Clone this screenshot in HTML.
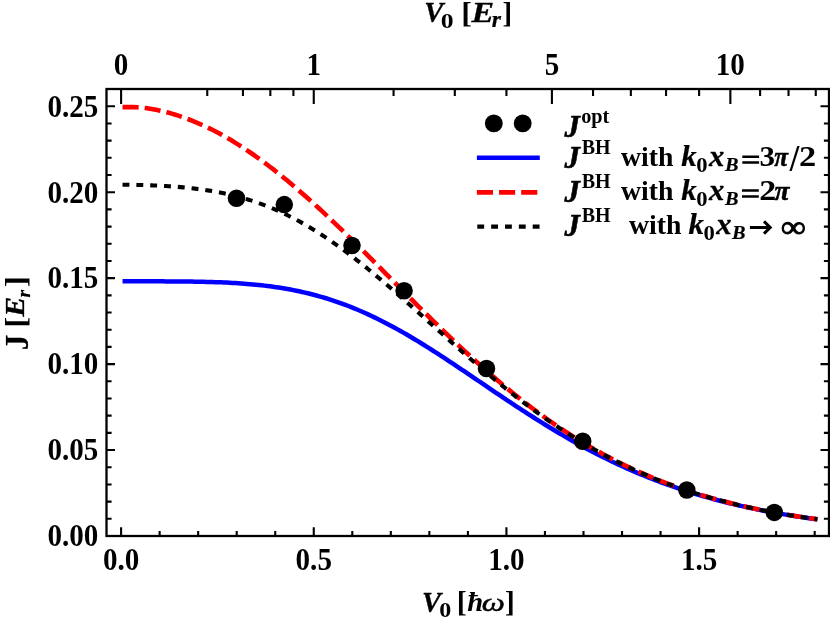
<!DOCTYPE html>
<html><head><meta charset="utf-8"><title>J vs V0</title>
<style>html,body{margin:0;padding:0;background:#fff;}body{width:830px;height:623px;overflow:hidden;}svg{display:block;will-change:transform;}text{font-family:"Liberation Serif",serif;font-weight:bold;fill:#000;}.i{font-style:italic;}</style>
</head><body>
<svg width="830" height="623" viewBox="0 0 830 623">
<rect width="830" height="623" fill="#fff"/>
<g fill="none" stroke-linejoin="round">
<path d="M122.53,281.33 L125.42,281.33 L128.32,281.33 L131.21,281.33 L134.11,281.33 L137.00,281.33 L139.90,281.33 L142.79,281.34 L145.69,281.34 L148.58,281.34 L151.48,281.34 L154.37,281.35 L157.27,281.35 L160.16,281.36 L163.06,281.37 L165.95,281.38 L168.85,281.39 L171.75,281.40 L174.64,281.42 L177.54,281.44 L180.43,281.46 L183.33,281.49 L186.22,281.52 L189.12,281.56 L192.01,281.60 L194.91,281.64 L197.80,281.69 L200.70,281.75 L203.59,281.81 L206.49,281.88 L209.38,281.96 L212.28,282.05 L215.17,282.14 L218.07,282.25 L220.97,282.36 L223.86,282.49 L226.76,282.62 L229.65,282.77 L232.55,282.93 L235.44,283.10 L238.34,283.28 L241.23,283.48 L244.13,283.69 L247.02,283.92 L249.92,284.16 L252.81,284.42 L255.71,284.69 L258.60,284.99 L261.50,285.30 L264.39,285.63 L267.29,285.98 L270.18,286.35 L273.08,286.74 L275.98,287.16 L278.87,287.59 L281.77,288.05 L284.66,288.53 L287.56,289.04 L290.45,289.57 L293.35,290.12 L296.24,290.70 L299.14,291.31 L302.03,291.94 L304.93,292.60 L307.82,293.29 L310.72,294.01 L313.61,294.75 L316.51,295.53 L319.40,296.33 L322.30,297.16 L325.19,298.02 L328.09,298.92 L330.99,299.84 L333.88,300.79 L336.78,301.78 L339.67,302.79 L342.57,303.84 L345.46,304.91 L348.36,306.02 L351.25,307.16 L354.15,308.33 L357.04,309.53 L359.94,310.76 L362.83,312.02 L365.73,313.31 L368.62,314.63 L371.52,315.98 L374.41,317.36 L377.31,318.77 L380.21,320.20 L383.10,321.67 L386.00,323.16 L388.89,324.68 L391.79,326.22 L394.68,327.79 L397.58,329.39 L400.47,331.01 L403.37,332.65 L406.26,334.32 L409.16,336.01 L412.05,337.72 L414.95,339.45 L417.84,341.20 L420.74,342.97 L423.63,344.76 L426.53,346.57 L429.42,348.39 L432.32,350.23 L435.22,352.08 L438.11,353.94 L441.01,355.82 L443.90,357.71 L446.80,359.62 L449.69,361.53 L452.59,363.45 L455.48,365.38 L458.38,367.32 L461.27,369.26 L464.17,371.21 L467.06,373.16 L469.96,375.12 L472.85,377.08 L475.75,379.04 L478.64,381.01 L481.54,382.97 L484.43,384.93 L487.33,386.90 L490.23,388.86 L493.12,390.81 L496.02,392.77 L498.91,394.72 L501.81,396.66 L504.70,398.60 L507.60,400.53 L510.49,402.45 L513.39,404.37 L516.28,406.28 L519.18,408.18 L522.07,410.06 L524.97,411.94 L527.86,413.81 L530.76,415.66 L533.65,417.51 L536.55,419.34 L539.45,421.16 L542.34,422.96 L545.24,424.75 L548.13,426.53 L551.03,428.29 L553.92,430.04 L556.82,431.77 L559.71,433.49 L562.61,435.18 L565.50,436.87 L568.40,438.53 L571.29,440.18 L574.19,441.82 L577.08,443.43 L579.98,445.03 L582.87,446.61 L585.77,448.17 L588.66,449.72 L591.56,451.24 L594.46,452.75 L597.35,454.24 L600.25,455.71 L603.14,457.16 L606.04,458.60 L608.93,460.01 L611.83,461.41 L614.72,462.79 L617.62,464.15 L620.51,465.49 L623.41,466.81 L626.30,468.11 L629.20,469.40 L632.09,470.66 L634.99,471.91 L637.88,473.14 L640.78,474.35 L643.67,475.54 L646.57,476.72 L649.47,477.87 L652.36,479.01 L655.26,480.13 L658.15,481.24 L661.05,482.32 L663.94,483.39 L666.84,484.44 L669.73,485.47 L672.63,486.48 L675.52,487.48 L678.42,488.47 L681.31,489.43 L684.21,490.38 L687.10,491.31 L690.00,492.23 L692.89,493.13 L695.79,494.01 L698.69,494.88 L701.58,495.73 L704.48,496.57 L707.37,497.39 L710.27,498.20 L713.16,499.00 L716.06,499.78 L718.95,500.54 L721.85,501.29 L724.74,502.03 L727.64,502.75 L730.53,503.46 L733.43,504.15 L736.32,504.84 L739.22,505.51 L742.11,506.16 L745.01,506.81 L747.90,507.44 L750.80,508.06 L753.70,508.66 L756.59,509.26 L759.49,509.84 L762.38,510.42 L765.28,510.98 L768.17,511.53 L771.07,512.06 L773.96,512.59 L776.86,513.11 L779.75,513.62 L782.65,514.11 L785.54,514.60 L788.44,515.08 L791.33,515.54 L794.23,516.00 L797.12,516.45 L800.02,516.89 L802.91,517.32 L805.81,517.74 L808.71,518.15 L811.60,518.55 L814.50,518.95 L817.39,519.33" stroke="#0000ff" stroke-width="4.5"/>
<path d="M122.53,107.15 L125.42,107.15 L128.32,107.13 L131.21,107.13 L134.11,107.17 L137.00,107.27 L139.90,107.45 L142.79,107.71 L145.69,108.05 L148.58,108.46 L151.48,108.93 L154.37,109.45 L157.27,110.03 L160.16,110.65 L163.06,111.32 L165.95,112.04 L168.85,112.81 L171.75,113.63 L174.64,114.49 L177.54,115.39 L180.43,116.35 L183.33,117.35 L186.22,118.39 L189.12,119.48 L192.01,120.62 L194.91,121.80 L197.80,123.02 L200.70,124.29 L203.59,125.61 L206.49,126.96 L209.38,128.36 L212.28,129.81 L215.17,131.29 L218.07,132.82 L220.97,134.39 L223.86,136.00 L226.76,137.65 L229.65,139.34 L232.55,141.07 L235.44,142.84 L238.34,144.65 L241.23,146.49 L244.13,148.38 L247.02,150.30 L249.92,152.26 L252.81,154.26 L255.71,156.29 L258.60,158.35 L261.50,160.45 L264.39,162.59 L267.29,164.76 L270.18,166.96 L273.08,169.19 L275.98,171.46 L278.87,173.75 L281.77,176.08 L284.66,178.43 L287.56,180.82 L290.45,183.23 L293.35,185.67 L296.24,188.14 L299.14,190.63 L302.03,193.15 L304.93,195.69 L307.82,198.26 L310.72,200.85 L313.61,203.46 L316.51,206.10 L319.40,208.76 L322.30,211.43 L325.19,214.13 L328.09,216.84 L330.99,219.57 L333.88,222.32 L336.78,225.08 L339.67,227.86 L342.57,230.66 L345.46,233.47 L348.36,236.29 L351.25,239.12 L354.15,241.97 L357.04,244.82 L359.94,247.69 L362.83,250.56 L365.73,253.45 L368.62,256.33 L371.52,259.23 L374.41,262.13 L377.31,265.04 L380.21,267.95 L383.10,270.86 L386.00,273.78 L388.89,276.69 L391.79,279.61 L394.68,282.53 L397.58,285.44 L400.47,288.36 L403.37,291.27 L406.26,294.18 L409.16,297.09 L412.05,299.99 L414.95,302.88 L417.84,305.77 L420.74,308.65 L423.63,311.53 L426.53,314.39 L429.42,317.25 L432.32,320.10 L435.22,322.93 L438.11,325.76 L441.01,328.57 L443.90,331.37 L446.80,334.16 L449.69,336.93 L452.59,339.69 L455.48,342.44 L458.38,345.17 L461.27,347.88 L464.17,350.58 L467.06,353.26 L469.96,355.92 L472.85,358.57 L475.75,361.19 L478.64,363.80 L481.54,366.39 L484.43,368.96 L487.33,371.51 L490.23,374.03 L493.12,376.54 L496.02,379.03 L498.91,381.49 L501.81,383.93 L504.70,386.35 L507.60,388.75 L510.49,391.12 L513.39,393.47 L516.28,395.80 L519.18,398.10 L522.07,400.38 L524.97,402.64 L527.86,404.87 L530.76,407.08 L533.65,409.26 L536.55,411.42 L539.45,413.55 L542.34,415.66 L545.24,417.75 L548.13,419.80 L551.03,421.84 L553.92,423.85 L556.82,425.83 L559.71,427.79 L562.61,429.72 L565.50,431.63 L568.40,433.51 L571.29,435.37 L574.19,437.20 L577.08,439.01 L579.98,440.79 L582.87,442.55 L585.77,444.28 L588.66,445.99 L591.56,447.68 L594.46,449.34 L597.35,450.97 L600.25,452.58 L603.14,454.17 L606.04,455.73 L608.93,457.27 L611.83,458.78 L614.72,460.28 L617.62,461.74 L620.51,463.19 L623.41,464.61 L626.30,466.01 L629.20,467.39 L632.09,468.74 L634.99,470.07 L637.88,471.38 L640.78,472.67 L643.67,473.94 L646.57,475.18 L649.47,476.41 L652.36,477.61 L655.26,478.79 L658.15,479.96 L661.05,481.10 L663.94,482.22 L666.84,483.32 L669.73,484.40 L672.63,485.47 L675.52,486.51 L678.42,487.54 L681.31,488.55 L684.21,489.53 L687.10,490.51 L690.00,491.46 L692.89,492.39 L695.79,493.31 L698.69,494.21 L701.58,495.10 L704.48,495.96 L707.37,496.81 L710.27,497.65 L713.16,498.47 L716.06,499.27 L718.95,500.06 L721.85,500.83 L724.74,501.59 L727.64,502.33 L730.53,503.06 L733.43,503.78 L736.32,504.48 L739.22,505.16 L742.11,505.83 L745.01,506.49 L747.90,507.14 L750.80,507.77 L753.70,508.39 L756.59,509.00 L759.49,509.60 L762.38,510.18 L765.28,510.75 L768.17,511.31 L771.07,511.86 L773.96,512.40 L776.86,512.93 L779.75,513.44 L782.65,513.95 L785.54,514.44 L788.44,514.93 L791.33,515.40 L794.23,515.86 L797.12,516.32 L800.02,516.76 L802.91,517.20 L805.81,517.62 L808.71,518.04 L811.60,518.45 L814.50,518.85 L817.39,519.24" stroke="#ff0000" stroke-width="4.6" stroke-dasharray="16.1 6.07"/>
<path d="M122.53,184.78 L125.42,184.79 L128.32,184.81 L131.21,184.84 L134.11,184.88 L137.00,184.93 L139.90,184.99 L142.79,185.06 L145.69,185.14 L148.58,185.23 L151.48,185.33 L154.37,185.45 L157.27,185.57 L160.16,185.71 L163.06,185.87 L165.95,186.03 L168.85,186.21 L171.75,186.41 L174.64,186.62 L177.54,186.85 L180.43,187.09 L183.33,187.35 L186.22,187.63 L189.12,187.93 L192.01,188.25 L194.91,188.59 L197.80,188.95 L200.70,189.33 L203.59,189.73 L206.49,190.16 L209.38,190.62 L212.28,191.10 L215.17,191.61 L218.07,192.14 L220.97,192.70 L223.86,193.30 L226.76,193.92 L229.65,194.57 L232.55,195.26 L235.44,195.98 L238.34,196.73 L241.23,197.52 L244.13,198.34 L247.02,199.20 L249.92,200.10 L252.81,201.03 L255.71,202.00 L258.60,203.01 L261.50,204.06 L264.39,205.14 L267.29,206.27 L270.18,207.43 L273.08,208.64 L275.98,209.88 L278.87,211.17 L281.77,212.50 L284.66,213.86 L287.56,215.27 L290.45,216.72 L293.35,218.20 L296.24,219.73 L299.14,221.30 L302.03,222.90 L304.93,224.55 L307.82,226.23 L310.72,227.96 L313.61,229.72 L316.51,231.52 L319.40,233.35 L322.30,235.23 L325.19,237.13 L328.09,239.08 L330.99,241.05 L333.88,243.06 L336.78,245.11 L339.67,247.18 L342.57,249.29 L345.46,251.43 L348.36,253.60 L351.25,255.80 L354.15,258.02 L357.04,260.27 L359.94,262.55 L362.83,264.86 L365.73,267.18 L368.62,269.53 L371.52,271.91 L374.41,274.30 L377.31,276.72 L380.21,279.15 L383.10,281.60 L386.00,284.07 L388.89,286.56 L391.79,289.06 L394.68,291.57 L397.58,294.10 L400.47,296.64 L403.37,299.19 L406.26,301.75 L409.16,304.31 L412.05,306.89 L414.95,309.47 L417.84,312.06 L420.74,314.65 L423.63,317.25 L426.53,319.84 L429.42,322.44 L432.32,325.04 L435.22,327.64 L438.11,330.24 L441.01,332.83 L443.90,335.43 L446.80,338.01 L449.69,340.60 L452.59,343.17 L455.48,345.74 L458.38,348.31 L461.27,350.86 L464.17,353.40 L467.06,355.94 L469.96,358.46 L472.85,360.97 L475.75,363.47 L478.64,365.96 L481.54,368.43 L484.43,370.89 L487.33,373.34 L490.23,375.76 L493.12,378.18 L496.02,380.57 L498.91,382.95 L501.81,385.31 L504.70,387.65 L507.60,389.98 L510.49,392.28 L513.39,394.57 L516.28,396.83 L519.18,399.08 L522.07,401.30 L524.97,403.50 L527.86,405.68 L530.76,407.84 L533.65,409.98 L536.55,412.10 L539.45,414.19 L542.34,416.26 L545.24,418.31 L548.13,420.34 L551.03,422.34 L553.92,424.32 L556.82,426.27 L559.71,428.20 L562.61,430.11 L565.50,432.00 L568.40,433.86 L571.29,435.69 L574.19,437.51 L577.08,439.29 L579.98,441.06 L582.87,442.80 L585.77,444.52 L588.66,446.21 L591.56,447.88 L594.46,449.53 L597.35,451.15 L600.25,452.75 L603.14,454.33 L606.04,455.88 L608.93,457.41 L611.83,458.91 L614.72,460.40 L617.62,461.86 L620.51,463.29 L623.41,464.71 L626.30,466.10 L629.20,467.47 L632.09,468.82 L634.99,470.15 L637.88,471.45 L640.78,472.74 L643.67,474.00 L646.57,475.24 L649.47,476.46 L652.36,477.66 L655.26,478.84 L658.15,480.00 L661.05,481.14 L663.94,482.26 L666.84,483.36 L669.73,484.44 L672.63,485.50 L675.52,486.54 L678.42,487.57 L681.31,488.57 L684.21,489.56 L687.10,490.53 L690.00,491.48 L692.89,492.41 L695.79,493.33 L698.69,494.23 L701.58,495.11 L704.48,495.98 L707.37,496.83 L710.27,497.66 L713.16,498.48 L716.06,499.28 L718.95,500.07 L721.85,500.84 L724.74,501.60 L727.64,502.34 L730.53,503.07 L733.43,503.78 L736.32,504.48 L739.22,505.17 L742.11,505.84 L745.01,506.50 L747.90,507.14 L750.80,507.78 L753.70,508.40 L756.59,509.01 L759.49,509.60 L762.38,510.18 L765.28,510.76 L768.17,511.32 L771.07,511.86 L773.96,512.40 L776.86,512.93 L779.75,513.44 L782.65,513.95 L785.54,514.44 L788.44,514.93 L791.33,515.40 L794.23,515.86 L797.12,516.32 L800.02,516.76 L802.91,517.20 L805.81,517.62 L808.71,518.04 L811.60,518.45 L814.50,518.85 L817.39,519.24" stroke="#000" stroke-width="4.1" stroke-dasharray="6.9 6.935"/>
</g>
<g fill="#000">
<circle cx="236.5" cy="198.2" r="8.75"/>
<circle cx="284.3" cy="204.6" r="8.75"/>
<circle cx="352.0" cy="245.5" r="8.75"/>
<circle cx="404.1" cy="290.7" r="8.75"/>
<circle cx="486.5" cy="368.5" r="8.75"/>
<circle cx="582.7" cy="441.2" r="8.75"/>
<circle cx="686.8" cy="490.0" r="8.75"/>
<circle cx="774.3" cy="512.4" r="8.75"/>
</g>
<g stroke="#000" fill="none" stroke-width="2.10">
<path d="M121.10,536.00V527.30M159.63,536.00V531.00M198.17,536.00V531.00M236.70,536.00V531.00M275.23,536.00V531.00M313.76,536.00V527.30M352.30,536.00V531.00M390.83,536.00V531.00M429.36,536.00V531.00M467.90,536.00V531.00M506.43,536.00V527.30M544.96,536.00V531.00M583.50,536.00V531.00M622.03,536.00V531.00M660.56,536.00V531.00M699.10,536.00V527.30M737.63,536.00V531.00M776.16,536.00V531.00M814.69,536.00V531.00M121.10,89.00V104.00M207.26,89.00V96.00M242.95,89.00V96.00M270.34,89.00V96.00M293.42,89.00V96.00M313.76,89.00V104.00M393.57,89.00V96.00M454.81,89.00V96.00M506.43,89.00V96.00M551.91,89.00V104.00M593.03,89.00V96.00M630.84,89.00V96.00M666.04,89.00V96.00M699.10,89.00V96.00M730.36,89.00V104.00M760.10,89.00V96.00M788.51,89.00V96.00M815.76,89.00V96.00M106.50,536.00H115.00M829.00,536.00H820.50M106.50,518.81H111.60M829.00,518.81H823.90M106.50,501.62H111.60M829.00,501.62H823.90M106.50,484.43H111.60M829.00,484.43H823.90M106.50,467.24H111.60M829.00,467.24H823.90M106.50,450.05H115.00M829.00,450.05H820.50M106.50,432.86H111.60M829.00,432.86H823.90M106.50,415.67H111.60M829.00,415.67H823.90M106.50,398.48H111.60M829.00,398.48H823.90M106.50,381.29H111.60M829.00,381.29H823.90M106.50,364.10H115.00M829.00,364.10H820.50M106.50,346.91H111.60M829.00,346.91H823.90M106.50,329.72H111.60M829.00,329.72H823.90M106.50,312.53H111.60M829.00,312.53H823.90M106.50,295.34H111.60M829.00,295.34H823.90M106.50,278.15H115.00M829.00,278.15H820.50M106.50,260.96H111.60M829.00,260.96H823.90M106.50,243.77H111.60M829.00,243.77H823.90M106.50,226.58H111.60M829.00,226.58H823.90M106.50,209.39H111.60M829.00,209.39H823.90M106.50,192.20H115.00M829.00,192.20H820.50M106.50,175.01H111.60M829.00,175.01H823.90M106.50,157.82H111.60M829.00,157.82H823.90M106.50,140.63H111.60M829.00,140.63H823.90M106.50,123.44H111.60M829.00,123.44H823.90M106.50,106.25H115.00M829.00,106.25H820.50M106.50,89.06H111.60M829.00,89.06H823.90"/>
<rect x="106.50" y="89.00" width="722.50" height="447.00" stroke-width="2.30"/>
</g>
<text transform="translate(98.30,546.30) scale(0.9380,1)" font-size="31.00" text-anchor="end">0.00</text>
<text transform="translate(98.30,460.35) scale(0.9380,1)" font-size="31.00" text-anchor="end">0.05</text>
<text transform="translate(98.30,374.40) scale(0.9380,1)" font-size="31.00" text-anchor="end">0.10</text>
<text transform="translate(98.30,288.45) scale(0.9380,1)" font-size="31.00" text-anchor="end">0.15</text>
<text transform="translate(98.30,202.50) scale(0.9380,1)" font-size="31.00" text-anchor="end">0.20</text>
<text transform="translate(98.30,116.55) scale(0.9380,1)" font-size="31.00" text-anchor="end">0.25</text>
<text transform="translate(121.10,570.10) scale(0.9380,1)" font-size="31.00" text-anchor="middle">0.0</text>
<text transform="translate(313.76,570.10) scale(0.9380,1)" font-size="31.00" text-anchor="middle">0.5</text>
<text transform="translate(506.43,570.10) scale(0.9380,1)" font-size="31.00" text-anchor="middle">1.0</text>
<text transform="translate(699.10,570.10) scale(0.9380,1)" font-size="31.00" text-anchor="middle">1.5</text>
<text transform="translate(121.10,75.10) scale(0.9380,1)" font-size="31.00" text-anchor="middle">0</text>
<text transform="translate(313.76,75.10) scale(0.9380,1)" font-size="31.00" text-anchor="middle">1</text>
<text transform="translate(551.91,75.10) scale(0.9380,1)" font-size="31.00" text-anchor="middle">5</text>
<text transform="translate(730.36,75.10) scale(0.9380,1)" font-size="31.00" text-anchor="middle">10</text>
<text transform="translate(424.23,22.21) scale(0.9652,1)" font-size="29.62" class="i" stroke="#000" stroke-width="0.30" stroke-linejoin="round">V</text>
<text transform="translate(440.87,27.88) scale(1.1728,1)" font-size="21.93">0</text>
<text transform="translate(461.31,22.73) scale(1.0542,1)" font-size="30.18">[</text>
<text transform="translate(471.62,21.85) scale(1.1755,1)" font-size="28.85" class="i" stroke="#000" stroke-width="0.30" stroke-linejoin="round">E</text>
<text transform="translate(491.83,26.50) scale(1.0141,1)" font-size="23.40" class="i" stroke="#000" stroke-width="0.20" stroke-linejoin="round">r</text>
<text transform="translate(502.59,22.73) scale(0.9572,1)" font-size="30.18">]</text>
<text transform="translate(422.04,611.71) scale(0.9651,1)" font-size="29.47" class="i" stroke="#000" stroke-width="0.30" stroke-linejoin="round">V</text>
<text transform="translate(439.34,617.09) scale(1.1272,1)" font-size="21.33">0</text>
<text transform="translate(456.75,612.12) scale(1.0185,1)" font-size="29.45">[</text>
<text transform="translate(467.33,611.40) scale(1.0193,1)" font-size="28.12" class="i">&#295;</text>
<text transform="translate(481.81,611.11) scale(1.3482,1)" font-size="24.21" class="i" style="font-weight:normal" stroke="#000" stroke-width="0.50" stroke-linejoin="round">&#969;</text>
<text transform="translate(505.07,612.12) scale(0.9959,1)" font-size="29.45">]</text>
<text transform="translate(564.60,136.78) scale(0.9561,1)" font-size="32.27" class="i" stroke="#000" stroke-width="0.60" stroke-linejoin="round">J</text>
<text transform="translate(581.19,122.96) scale(0.9830,1)" font-size="20.65">opt</text>
<text transform="translate(564.60,168.28) scale(0.9561,1)" font-size="32.27" class="i" stroke="#000" stroke-width="0.60" stroke-linejoin="round">J</text>
<text transform="translate(581.70,154.00) scale(0.9850,1)" font-size="20.31">BH</text>
<text transform="translate(620.96,166.02) scale(1.0066,1)" font-size="27.57">with</text>
<text transform="translate(681.24,166.40) scale(1.0677,1)" font-size="28.99" class="i" stroke="#000" stroke-width="0.20" stroke-linejoin="round">k</text>
<text transform="translate(696.20,172.20) scale(1.1226,1)" font-size="20.15">0</text>
<text transform="translate(708.96,166.35) scale(1.0590,1)" font-size="29.01" class="i" stroke="#000" stroke-width="0.30" stroke-linejoin="round">x</text>
<text transform="translate(724.90,170.90) scale(1.0817,1)" font-size="18.78" class="i" stroke="#000" stroke-width="0.20" stroke-linejoin="round">B</text>
<text transform="translate(759.56,166.10) scale(1.0457,1)" font-size="29.70">3</text>
<text transform="translate(774.30,165.97) scale(0.9023,1)" font-size="27.96" class="i" stroke="#000" stroke-width="0.50" stroke-linejoin="round">&#960;</text>
<text transform="translate(789.84,171.02) scale(0.8964,1)" font-size="38.20">/</text>
<text transform="translate(799.12,166.10) scale(1.1603,1)" font-size="29.70">2</text>
<text transform="translate(564.60,202.23) scale(0.9561,1)" font-size="32.27" class="i" stroke="#000" stroke-width="0.60" stroke-linejoin="round">J</text>
<text transform="translate(581.70,187.95) scale(0.9850,1)" font-size="20.31">BH</text>
<text transform="translate(620.96,199.97) scale(1.0066,1)" font-size="27.57">with</text>
<text transform="translate(681.34,200.35) scale(1.0677,1)" font-size="28.99" class="i" stroke="#000" stroke-width="0.20" stroke-linejoin="round">k</text>
<text transform="translate(696.30,206.15) scale(1.1226,1)" font-size="20.15">0</text>
<text transform="translate(709.06,200.30) scale(1.0590,1)" font-size="29.01" class="i" stroke="#000" stroke-width="0.30" stroke-linejoin="round">x</text>
<text transform="translate(725.00,204.85) scale(1.0817,1)" font-size="18.78" class="i" stroke="#000" stroke-width="0.20" stroke-linejoin="round">B</text>
<text transform="translate(759.14,200.00) scale(1.1500,1)" font-size="29.55">2</text>
<text transform="translate(774.58,199.97) scale(0.9721,1)" font-size="28.17" class="i" stroke="#000" stroke-width="0.50" stroke-linejoin="round">&#960;</text>
<text transform="translate(564.60,236.18) scale(0.9561,1)" font-size="32.27" class="i" stroke="#000" stroke-width="0.60" stroke-linejoin="round">J</text>
<text transform="translate(581.70,221.90) scale(0.9850,1)" font-size="20.31">BH</text>
<text transform="translate(629.06,233.92) scale(1.0066,1)" font-size="27.57">with</text>
<text transform="translate(688.44,234.30) scale(1.0677,1)" font-size="28.99" class="i" stroke="#000" stroke-width="0.20" stroke-linejoin="round">k</text>
<text transform="translate(703.40,240.10) scale(1.1226,1)" font-size="20.15">0</text>
<text transform="translate(716.16,234.25) scale(1.0590,1)" font-size="29.01" class="i" stroke="#000" stroke-width="0.30" stroke-linejoin="round">x</text>
<text transform="translate(732.10,238.80) scale(1.0817,1)" font-size="18.78" class="i" stroke="#000" stroke-width="0.20" stroke-linejoin="round">B</text>
<text transform="translate(781.28,237.15) scale(1.1103,1)" font-size="30.53" stroke="#000" stroke-width="1.00" stroke-linejoin="round">&#8734;</text>
<text transform="translate(27.56,350.21) rotate(-90) scale(0.9169,1)" font-size="34.24" stroke="#000" stroke-width="0.20" stroke-linejoin="round">J</text>
<text transform="translate(25.94,327.39) rotate(-90) scale(1.0585,1)" font-size="30.06">[</text>
<text transform="translate(23.85,316.80) rotate(-90) scale(1.0650,1)" font-size="28.24" class="i" stroke="#000" stroke-width="0.30" stroke-linejoin="round">E</text>
<text transform="translate(29.60,297.59) rotate(-90) scale(0.9838,1)" font-size="19.79" class="i" stroke="#000" stroke-width="0.20" stroke-linejoin="round">r</text>
<text transform="translate(25.94,287.28) rotate(-90) scale(1.1237,1)" font-size="30.06">]</text>
<path d="M742.3,155.4h16.8v2.5h-16.8zM742.3,161.3h16.8v2.5h-16.8zM742.0,189.35h16.8v2.5h-16.8zM742.0,195.25h16.8v2.5h-16.8z" fill="#000"/>
<path d="M749.9,227.5H769.6M764.0,221.4L770.2,227.5L764.0,233.6" fill="none" stroke="#000" stroke-width="3" stroke-linejoin="miter"/>
<circle cx="493.8" cy="123.4" r="8.9"/><circle cx="522.7" cy="123.4" r="8.9"/>
<g fill="none"><path d="M476.9,157.8H539.8" stroke="#0000ff" stroke-width="4.5"/>
<path d="M476.9,192.35H539.8" stroke="#ff0000" stroke-width="4.6" stroke-dasharray="16.1 6.05"/>
<path d="M477.3,226.65H539.8" stroke="#000" stroke-width="4.1" stroke-dasharray="6.85 7.0"/></g>
</svg></body></html>
